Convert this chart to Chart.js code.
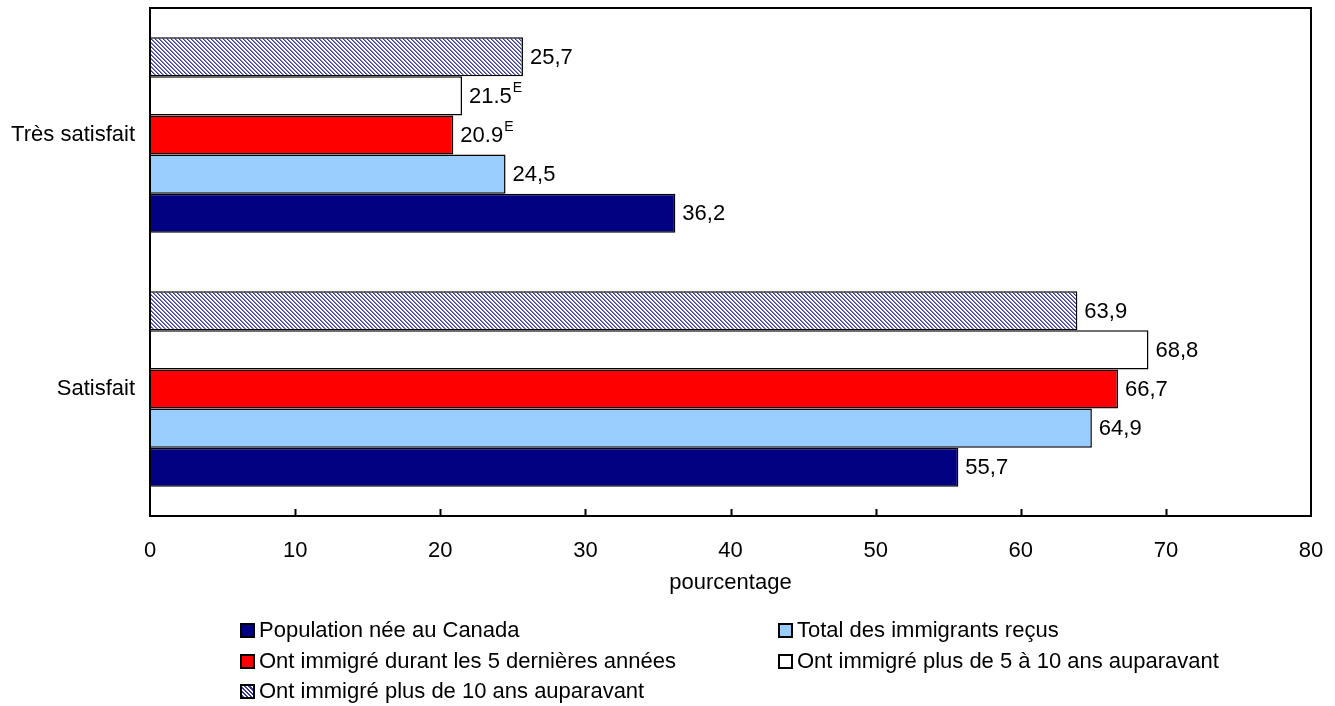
<!DOCTYPE html>
<html>
<head>
<meta charset="utf-8">
<script src="https://cdn.jsdelivr.net/npm/chart.js@4"></script>
<style>
  html, body { margin: 0; padding: 0; background: #fff; }
  #wrap { position: relative; width: 1335px; height: 706px; }
  #legend { position: absolute; left: 0; top: 0; width: 1335px; height: 706px; pointer-events: none;
            font-family: "Liberation Sans", Arial, sans-serif; font-size: 22px; color: #000; }
  .item { position: absolute; display: flex; align-items: center; white-space: nowrap; line-height: 26px; }
  .sw { width: 11px; height: 11px; border: 2px solid #000; margin-right: 4px; }
</style>
</head>
<body>
<div id="wrap">
  <canvas id="c" width="1335" height="706"></canvas>
  <div id="legend"></div>
</div>
<script>
const categories = ['Très satisfait', 'Satisfait'];
const seriesNames = [
  'Population née au Canada',
  'Total des immigrants reçus',
  'Ont immigré durant les 5 dernières années',
  'Ont immigré plus de 5 à 10 ans auparavant',
  'Ont immigré plus de 10 ans auparavant'
];
// values per series, in the order of categories
const canadaBorn = [36.2, 55.7];
const allImmigrants = [24.5, 64.9];
const recent5 = [20.9, 66.7];
const from5to10 = [21.5, 68.8];
const over10 = [25.7, 63.9];
// printed labels (the source mixes comma and point decimals)
const canadaBornLbl = ['36,2', '55,7'];
const allImmigrantsLbl = ['24,5', '64,9'];
const recent5Lbl = ['20.9', '66,7'];
const from5to10Lbl = ['21.5', '68,8'];
const over10Lbl = ['25,7', '63,9'];
// "E" flag = use with caution
const recent5Flag = ['E', ''];
const from5to10Flag = ['E', ''];
const xTicks = [0, 10, 20, 30, 40, 50, 60, 70, 80];

const FONT = '"Liberation Sans", Arial, sans-serif';

function hatch() {
  const s = 4;
  const shades = [[58, 58, 152], [138, 138, 200], [255, 255, 255], [255, 255, 255]];
  const c = document.createElement('canvas');
  c.width = s; c.height = s;
  const g = c.getContext('2d');
  const img = g.createImageData(s, s);
  for (let y = 0; y < s; y++) {
    for (let x = 0; x < s; x++) {
      const col = shades[((x - y) % s + s) % s];
      const i = (y * s + x) * 4;
      img.data[i] = col[0];
      img.data[i + 1] = col[1];
      img.data[i + 2] = col[2];
      img.data[i + 3] = 255;
    }
  }
  g.putImageData(img, 0, 0);
  return g.createPattern(c, 'repeat');
}

const ctx = document.getElementById('c').getContext('2d');

const valueLabels = {
  id: 'valueLabels',
  afterDatasetsDraw(chart) {
    const c = chart.ctx;
    c.save();
    c.fillStyle = '#000';
    c.textBaseline = 'middle';
    c.textAlign = 'left';
    chart.data.datasets.forEach((ds, di) => {
      chart.getDatasetMeta(di).data.forEach((bar, i) => {
        const x = bar.x + 7;
        const y = bar.y + 1;
        c.font = '22px ' + FONT;
        c.fillText(ds.lbl[i], x, y);
        if (ds.flag && ds.flag[i]) {
          const w = c.measureText(ds.lbl[i]).width;
          c.font = '14px ' + FONT;
          c.fillText(ds.flag[i], x + w + 1, y - 9);
        }
      });
    });
    c.restore();
  }
};

const frame = {
  id: 'frame',
  afterDraw(chart) {
    const a = chart.chartArea;
    const c = chart.ctx;
    const xs = chart.scales.x;
    c.save();
    c.strokeStyle = '#000';
    c.lineWidth = 2;
    c.strokeRect(a.left, a.top, a.right - a.left, a.bottom - a.top);
    c.beginPath();
    xTicks.slice(1, -1).forEach(v => {
      const px = Math.round(xs.getPixelForValue(v)) + 0.5;
      c.moveTo(px, a.bottom);
      c.lineTo(px, a.bottom - 7);
    });
    c.stroke();
    c.restore();
  }
};

// bars are drawn top to bottom in dataset order, so the datasets go in reverse of the legend
const sets = [
  { label: seriesNames[0], data: canadaBorn, lbl: canadaBornLbl, backgroundColor: '#000080' },
  { label: seriesNames[1], data: allImmigrants, lbl: allImmigrantsLbl, backgroundColor: '#99ccff' },
  { label: seriesNames[2], data: recent5, lbl: recent5Lbl, flag: recent5Flag, backgroundColor: '#ff0000' },
  { label: seriesNames[3], data: from5to10, lbl: from5to10Lbl, flag: from5to10Flag, backgroundColor: '#ffffff' },
  { label: seriesNames[4], data: over10, lbl: over10Lbl, backgroundColor: hatch() }
].map(d => Object.assign(d, {
  borderColor: '#000', borderWidth: 1.5, categoryPercentage: 0.77, barPercentage: 1.0
}));

const chart = new Chart(ctx, {
  type: 'bar',
  data: { labels: categories, datasets: sets.slice().reverse() },
  options: {
    indexAxis: 'y',
    responsive: false,
    animation: false,
    layout: { padding: { left: 0, right: 24, top: 8, bottom: 110 } },
    plugins: { legend: { display: false }, tooltip: { enabled: false } },
    scales: {
      x: {
        min: 0, max: 80,
        afterBuildTicks(s) { s.ticks = xTicks.map(v => ({ value: v })); },
        afterFit(s) { s.height = 80; s.paddingLeft = 0; s.paddingRight = 0; },
        grid: { display: false, drawTicks: false },
        border: { display: false },
        ticks: { color: '#000', padding: 22, font: { family: FONT, size: 22 } },
        title: { display: true, text: 'pourcentage', color: '#000', padding: 0, font: { family: FONT, size: 22 } }
      },
      y: {
        afterFit(s) { s.width = 150; s.paddingTop = 0; s.paddingBottom = 0; },
        grid: { display: false, drawTicks: false },
        border: { display: false },
        ticks: { color: '#000', padding: 15, font: { family: FONT, size: 22 } }
      }
    }
  },
  plugins: [valueLabels, frame]
});

// legend, built from the datasets in series order
const pos = [[240, 630], [778, 630], [240, 661], [778, 661], [240, 691]];
const legend = document.getElementById('legend');
sets.forEach((ds, i) => {
  const it = document.createElement('div');
  it.className = 'item';
  it.style.left = pos[i][0] + 'px';
  it.style.top = (pos[i][1] - 13) + 'px';
  const sw = document.createElement('span');
  sw.className = 'sw';
  if (i === 4) {
    sw.style.background = 'repeating-linear-gradient(45deg, #3a3a98 0 1.5px, #fff 1.5px 3px)';
  } else {
    sw.style.background = ds.backgroundColor;
  }
  const t = document.createElement('span');
  t.textContent = ds.label;
  it.appendChild(sw);
  it.appendChild(t);
  legend.appendChild(it);
});
</script>
</body>
</html>
